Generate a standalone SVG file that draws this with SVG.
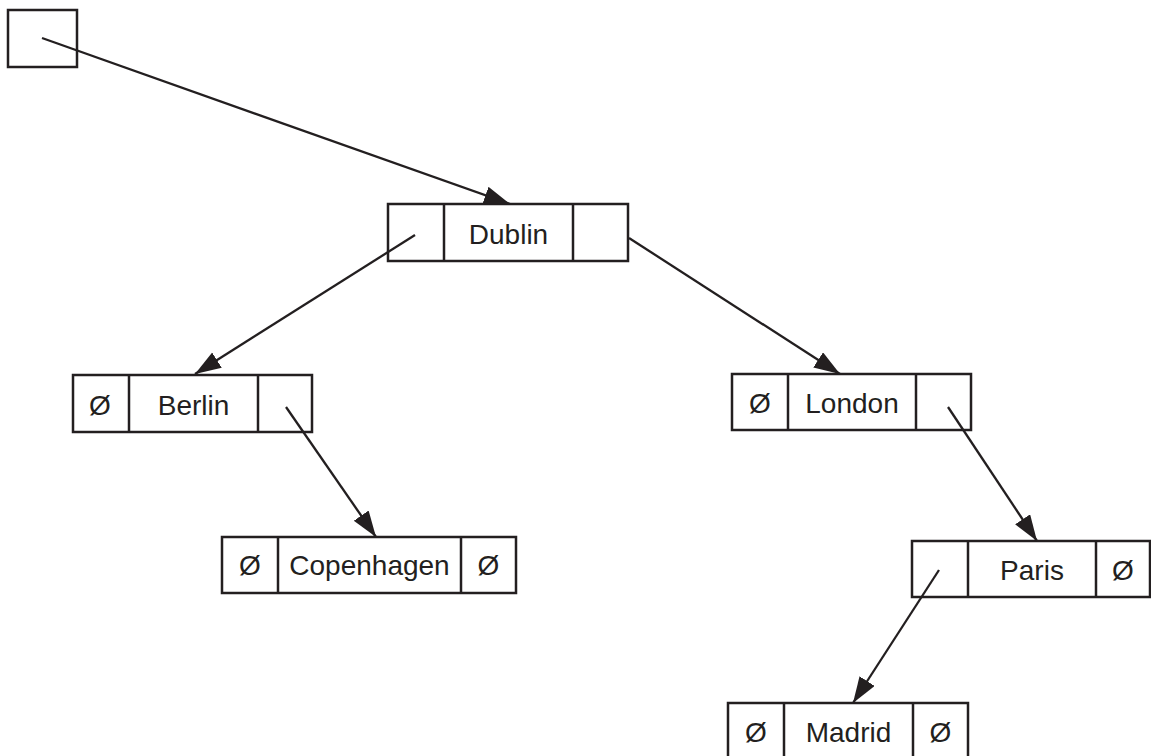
<svg xmlns="http://www.w3.org/2000/svg" width="1151" height="756" viewBox="0 0 1151 756">
<style>
.box{fill:#fff;stroke:#231f20;stroke-width:2.5}
.div{stroke:#231f20;stroke-width:2.5}
.t{font-family:"Liberation Sans",Arial,sans-serif;font-size:28px;fill:#231f20;text-anchor:middle}
.c{stroke:#231f20;stroke-width:2.3;fill:none;marker-end:url(#ah)}
</style>
<defs>
<marker id="ah" markerUnits="userSpaceOnUse" markerWidth="28" markerHeight="20" refX="26" refY="9" orient="auto">
<path d="M0,0 L26,9 L0,18 z" fill="#231f20"/>
</marker>
</defs>
<rect width="1151" height="756" fill="#fff"/>
<g id="root"><rect class="box" x="8" y="10" width="69" height="57"/></g>
<g id="dublin">
<rect class="box" x="388" y="204" width="240" height="57"/>
<line class="div" x1="444" y1="204" x2="444" y2="261"/>
<line class="div" x1="573" y1="204" x2="573" y2="261"/>
<text class="t" x="508.5" y="244">Dublin</text>
</g>
<g id="berlin">
<rect class="box" x="73" y="375" width="239" height="57"/>
<line class="div" x1="129" y1="375" x2="129" y2="432"/>
<line class="div" x1="258" y1="375" x2="258" y2="432"/>
<text class="t" x="100" y="415">Ø</text>
<text class="t" x="193.5" y="415">Berlin</text>
</g>
<g id="copenhagen">
<rect class="box" x="222" y="537" width="294" height="56"/>
<line class="div" x1="278" y1="537" x2="278" y2="593"/>
<line class="div" x1="461" y1="537" x2="461" y2="593"/>
<text class="t" x="250" y="575">Ø</text>
<text class="t" x="369.5" y="575">Copenhagen</text>
<text class="t" x="488.5" y="575">Ø</text>
</g>
<g id="london">
<rect class="box" x="732" y="374" width="239" height="56"/>
<line class="div" x1="788" y1="374" x2="788" y2="430"/>
<line class="div" x1="916" y1="374" x2="916" y2="430"/>
<text class="t" x="760" y="413">Ø</text>
<text class="t" x="852" y="413">London</text>
</g>
<g id="paris">
<rect class="box" x="912" y="541" width="238" height="56"/>
<line class="div" x1="968" y1="541" x2="968" y2="597"/>
<line class="div" x1="1096" y1="541" x2="1096" y2="597"/>
<text class="t" x="1032" y="580">Paris</text>
<text class="t" x="1123" y="580">Ø</text>
</g>
<g id="madrid">
<rect class="box" x="728" y="703" width="240" height="57"/>
<line class="div" x1="784" y1="703" x2="784" y2="760"/>
<line class="div" x1="913" y1="703" x2="913" y2="760"/>
<text class="t" x="756" y="742">Ø</text>
<text class="t" x="848.5" y="742">Madrid</text>
<text class="t" x="940.5" y="742">Ø</text>
</g>
<g id="connectors">
<line class="c" x1="42" y1="38" x2="510" y2="204"/>
<line class="c" x1="415" y1="235" x2="195" y2="374"/>
<line class="c" x1="629" y1="238" x2="840" y2="374"/>
<line class="c" x1="286" y1="407" x2="376" y2="537"/>
<line class="c" x1="948" y1="407" x2="1037" y2="541"/>
<line class="c" x1="939" y1="570" x2="853" y2="703"/>
</g>
</svg>
